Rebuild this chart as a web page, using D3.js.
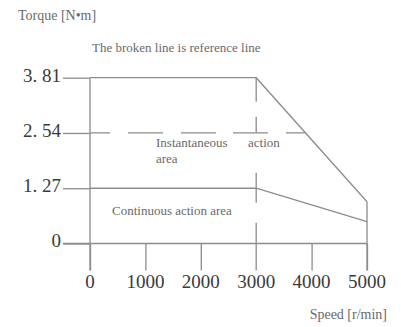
<!DOCTYPE html>
<html>
<head>
<meta charset="utf-8">
<script src="https://cdn.jsdelivr.net/npm/d3@7"></script>
<style>
  html, body { margin: 0; padding: 0; background: #fff; }
  svg { display: block; }
</style>
</head>
<body>
<script>
// Speed–torque characteristic of the servo motor
const speedTicks = [0, 1000, 2000, 3000, 4000, 5000];      // r/min
const torqueTicks = [0, 1.27, 2.54, 3.81];                  // N·m
const ratedSpeed = 3000;
const maxSpeed = 5000;
const peakTorque = 3.81;
const ratedTorque = 1.27;
const referenceTorque = 2.54;

// Instantaneous (peak) envelope
const peakSpeed  = [0, 3000, 5000];
const peakValues = [3.81, 3.81, 0.96];
// Continuous envelope
const contSpeed  = [0, 3000, 5000];
const contValues = [1.27, 1.27, 0.50];

const W = 401, H = 327;
const lineColor = "#8c8c8c";
const serif = "'Liberation Serif', 'Times New Roman', serif";

const svg = d3.select("body").append("svg")
  .attr("width", W).attr("height", H);

const x = d3.scaleLinear().domain([0, maxSpeed]).range([90, 367]);
const y = d3.scaleLinear().domain([0, peakTorque]).range([243.5, 77.7]);
const tickLen = 27;
const axisBottom = y(0) + tickLen;

const g = svg.append("g")
  .attr("fill", "none")
  .attr("stroke", lineColor)
  .attr("stroke-width", 1.3);

// Torque axis ticks (left of the vertical axis)
const yAxis = d3.axisLeft(y).tickValues(torqueTicks).tickSize(tickLen).tickFormat("");
const yG = svg.append("g").attr("transform", `translate(${x(0)},0)`).call(yAxis);
yG.select(".domain").remove();
yG.selectAll(".tick line").attr("stroke", lineColor).attr("stroke-width", 1.3);

// Speed axis ticks (below the horizontal axis)
const xAxis = d3.axisBottom(x).tickValues(speedTicks).tickSize(tickLen).tickFormat("");
const xG = svg.append("g").attr("transform", `translate(0,${y(0)})`).call(xAxis);
xG.select(".domain").remove();
xG.selectAll(".tick line").attr("stroke", lineColor).attr("stroke-width", 1.3)
  .filter(d => d === ratedSpeed).remove();

// Axis lines
g.append("line")
  .attr("x1", x(0) - tickLen).attr("x2", x(maxSpeed))
  .attr("y1", y(0)).attr("y2", y(0));
g.append("line")
  .attr("x1", x(0)).attr("x2", x(0))
  .attr("y1", y(peakTorque)).attr("y2", axisBottom);

const line = d3.line().x(d => x(d[0])).y(d => y(d[1]));

// Peak envelope and its drop at maximum speed
const peakPts = d3.zip(peakSpeed, peakValues);
g.append("path").attr("d", line(peakPts));
g.append("line")
  .attr("x1", x(maxSpeed)).attr("x2", x(maxSpeed))
  .attr("y1", y(peakValues[peakValues.length - 1])).attr("y2", axisBottom);

// Continuous envelope
g.append("path").attr("d", line(d3.zip(contSpeed, contValues)));

// Broken reference lines
const pA = peakPts[1], pB = peakPts[2];
const refSpeed = pA[0] + (referenceTorque - pA[1]) / (pB[1] - pA[1]) * (pB[0] - pA[0]);
g.append("line")
  .attr("x1", x(0)).attr("x2", x(refSpeed))
  .attr("y1", y(referenceTorque)).attr("y2", y(referenceTorque))
  .attr("stroke-dasharray", "20,18,35,18,35,17,35,18");
g.append("line")
  .attr("x1", x(ratedSpeed)).attr("x2", x(ratedSpeed))
  .attr("y1", y(peakTorque)).attr("y2", axisBottom)
  .attr("stroke-dasharray", "24,15,16,40,30,20,60");

// Tick labels
const numFmt = d => d === 0 ? "0" : d3.format(".2f")(d).replace(".", ". ");
svg.append("g").selectAll("text").data(torqueTicks).join("text")
  .attr("x", 61).attr("y", d => y(d) + 3.8)
  .attr("text-anchor", "end")
  .attr("font-family", serif).attr("font-size", 19).attr("fill", "#3a3a3a")
  .text(numFmt);
svg.append("g").selectAll("text").data(speedTicks).join("text")
  .attr("x", d => x(d)).attr("y", 288)
  .attr("text-anchor", "middle")
  .attr("font-family", serif).attr("font-size", 19).attr("fill", "#3a3a3a")
  .text(d => d);

// Titles and area annotations
const note = (tx, ty, s, size, anchor) => svg.append("text")
  .attr("x", tx).attr("y", ty)
  .attr("text-anchor", anchor || "start")
  .attr("font-family", serif).attr("font-size", size).attr("fill", "#6a6a6a")
  .text(s);

note(18, 20, "Torque [N•m]", 14);
note(92, 52, "The broken line is reference line", 13);
note(156, 147, "Instantaneous", 13);
note(248, 147, "action", 13);
note(156, 163, "area", 13);
note(112, 215, "Continuous action area", 13);
note(387, 319, "Speed [r/min]", 14, "end");
</script>
</body>
</html>
